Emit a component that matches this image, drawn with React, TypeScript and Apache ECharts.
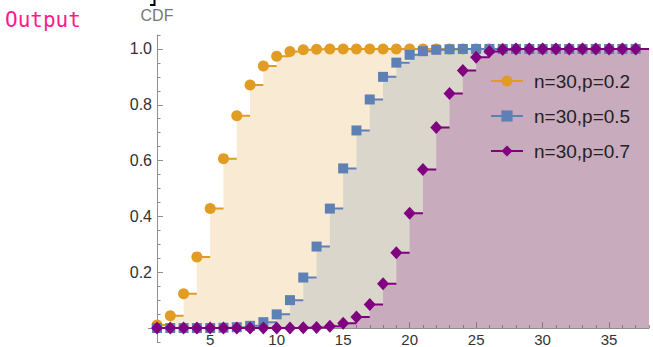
import React, { useEffect, useRef } from "react";
import * as echarts from "echarts";

// k values (0..37)
const ks = [0, 1, 2, 3, 4, 5, 6, 7, 8, 9, 10, 11, 12, 13, 14, 15, 16, 17, 18, 19, 20, 21, 22, 23, 24, 25, 26, 27, 28, 29, 30, 31, 32, 33, 34, 35, 36, 37];

const seriesNames = ["n=30,p=0.2", "n=30,p=0.5", "n=30,p=0.7"];

const cdfP02 = [0.001, 0.011, 0.044, 0.123, 0.255, 0.428, 0.607, 0.761, 0.871, 0.939, 0.974, 0.991, 0.997, 0.999, 1.0, 1.0, 1.0, 1.0, 1.0, 1.0, 1.0, 1.0, 1.0, 1.0, 1.0, 1.0, 1.0, 1.0, 1.0, 1.0, 1.0, 1.0, 1.0, 1.0, 1.0, 1.0, 1.0, 1.0];
const cdfP05 = [0.0, 0.0, 0.0, 0.0, 0.0, 0.0, 0.001, 0.003, 0.008, 0.021, 0.049, 0.1, 0.181, 0.292, 0.428, 0.572, 0.708, 0.819, 0.9, 0.951, 0.979, 0.992, 0.997, 0.999, 1.0, 1.0, 1.0, 1.0, 1.0, 1.0, 1.0, 1.0, 1.0, 1.0, 1.0, 1.0, 1.0, 1.0];
const cdfP07 = [0.0, 0.0, 0.0, 0.0, 0.0, 0.0, 0.0, 0.0, 0.0, 0.0, 0.0, 0.0, 0.001, 0.002, 0.006, 0.017, 0.04, 0.084, 0.159, 0.27, 0.411, 0.568, 0.719, 0.84, 0.923, 0.97, 0.991, 0.998, 1.0, 1.0, 1.0, 1.0, 1.0, 1.0, 1.0, 1.0, 1.0, 1.0];

const xTickLabels = [5, 10, 15, 20, 25, 30, 35];
const yTickLabels = [0.2, 0.4, 0.6, 0.8, 1.0];

const allCdfs = [cdfP02, cdfP05, cdfP07];
const colors = ["#e19c24", "#5e81b5", "#800080"];
const symbols = ["circle", "rect", "diamond"];
const symbolSizes: any[] = [11, 10, [12, 13]];

const X_MIN = 1;
const X_MAX = 38;
const Y_MIN = -0.05;
const Y_MAX = 1.05;

const FONT = "Liberation Sans, Arial, sans-serif";

function areaData(vals: number[]) {
  const d: any[] = ks.map((k, i) => [k, vals[i]]);
  d.push([ks[ks.length - 1] + 1, vals[vals.length - 1]]);
  return d;
}

function segData(vals: number[]) {
  const d: any[] = [];
  ks.forEach((k, i) => {
    d.push({ value: [k, vals[i]] });
    d.push({ value: [k + 1, vals[i]], symbol: "none" });
    d.push({ value: [k + 1, null], symbol: "none" });
  });
  return d;
}

export default function App() {
  const ref = useRef<HTMLDivElement>(null);

  useEffect(() => {
    if (!ref.current) return;
    const chart = echarts.init(ref.current, undefined, { renderer: "svg" });

    const minorX: number[] = [];
    for (let v = X_MIN; v <= X_MAX; v++) minorX.push(v);
    const minorY: number[] = [];
    for (let i = 0; i <= 22; i++) minorY.push(Math.round((Y_MIN + i * 0.05) * 100) / 100);

    const axisColor = "#8f8f8f";

    const areaSeries = allCdfs.map((vals, i) => ({
      type: "line",
      name: "fill" + i,
      step: "end",
      data: areaData(vals),
      symbol: "none",
      silent: true,
      lineStyle: { width: 0 },
      areaStyle: { color: colors[i], opacity: 0.2 },
      z: 1,
      xAxisIndex: 0,
      yAxisIndex: 0,
    }));

    const segSeries = allCdfs.map((vals, i) => ({
      type: "line",
      name: seriesNames[i],
      data: segData(vals),
      symbol: symbols[i],
      symbolSize: symbolSizes[i],
      showAllSymbol: true,
      connectNulls: false,
      silent: true,
      color: colors[i],
      itemStyle: { color: colors[i], borderWidth: 0 },
      lineStyle: { color: colors[i], width: 2 },
      emphasis: { disabled: true },
      z: 3 + i,
      xAxisIndex: 0,
      yAxisIndex: 0,
    }));

    chart.setOption({
      animation: false,
      grid: { left: 157, right: 4, top: 35, bottom: 5, containLabel: false, outerBoundsMode: "none" },
      xAxis: [
        {
          type: "value",
          min: X_MIN,
          max: X_MAX,
          position: "bottom",
          axisLine: { show: true, onZero: true, onZeroAxisIndex: 0, lineStyle: { color: axisColor, width: 1 } },
          axisTick: { show: true, inside: true, length: 6, customValues: xTickLabels, lineStyle: { color: axisColor } },
          axisLabel: { show: true, customValues: xTickLabels, fontSize: 15, color: "#333", margin: -10, fontFamily: FONT },
          splitLine: { show: false },
        },
        {
          type: "value",
          min: X_MIN,
          max: X_MAX,
          position: "bottom",
          axisLine: { show: false, onZero: true, onZeroAxisIndex: 0 },
          axisTick: { show: true, inside: true, length: 3, customValues: minorX, lineStyle: { color: axisColor } },
          axisLabel: { show: false },
          splitLine: { show: false },
        },
      ],
      yAxis: [
        {
          type: "value",
          min: Y_MIN,
          max: Y_MAX,
          position: "left",
          name: "CDF",
          nameLocation: "end",
          nameGap: 12,
          nameTextStyle: { fontSize: 16, color: "#777", fontFamily: FONT, align: "center" },
          axisLine: { show: true, onZero: false, lineStyle: { color: axisColor, width: 1 } },
          axisTick: { show: true, inside: true, length: 6, customValues: yTickLabels, lineStyle: { color: axisColor } },
          axisLabel: {
            show: true,
            customValues: yTickLabels,
            formatter: (v: number) => v.toFixed(1),
            fontSize: 16,
            color: "#333",
            margin: 5,
            fontFamily: FONT,
          },
          splitLine: { show: false },
        },
        {
          type: "value",
          min: Y_MIN,
          max: Y_MAX,
          position: "left",
          axisLine: { show: false, onZero: false },
          axisTick: { show: true, inside: true, length: 3.5, customValues: minorY, lineStyle: { color: axisColor } },
          axisLabel: { show: false },
          splitLine: { show: false },
        },
      ],
      legend: {
        data: seriesNames,
        orient: "vertical",
        left: 485,
        top: 66,
        itemWidth: 32,
        itemHeight: 14,
        itemGap: 15,
        selectedMode: false,
        textStyle: { fontSize: 19, color: "#222", fontFamily: FONT, lineHeight: 20, padding: [0, 0, 0, 6] },
      },
      graphic: [
        {
          type: "text",
          left: 5,
          top: 9,
          style: { text: "Output", fill: "#ff1a8c", fontSize: 21, fontFamily: "DejaVu Sans Mono, monospace" },
        },
        {
          type: "polyline",
          shape: { points: [[150, 5], [154.5, 5], [154.5, 0]] },
          style: { stroke: "#000", lineWidth: 2, fill: "none" },
        },
        {
          type: "line",
          shape: { x1: 148, y1: 328.5, x2: 157, y2: 328.5 },
          style: { stroke: axisColor, lineWidth: 1 },
        },
      ],
      series: [...areaSeries, ...segSeries],
    });

    return () => {
      chart.dispose();
    };
  }, []);

  return <div ref={ref} style={{ position: "absolute", left: 0, top: 0, width: 653, height: 347 }} />;
}
